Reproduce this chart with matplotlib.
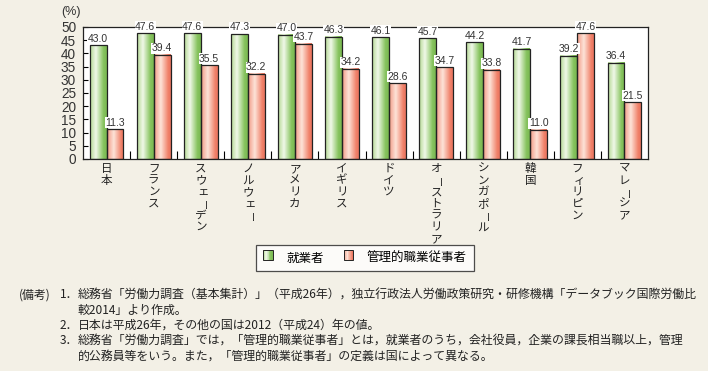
import numpy as np
import matplotlib
matplotlib.use('Agg')
import matplotlib.pyplot as plt
from matplotlib.colors import LinearSegmentedColormap
from matplotlib.patches import Rectangle

plt.rcParams['font.family'] = ['Liberation Sans', 'Noto Sans CJK JP']

# Data
countries = ['日本', 'フランス', 'スウェーデン', 'ノルウェー', 'アメリカ', 'イギリス', 'ドイツ',
             'オーストラリア', 'シンガポール', '韓国', 'フィリピン', 'マレーシア']
employed = [43.0, 47.6, 47.6, 47.3, 47.0, 46.3, 46.1, 45.7, 44.2, 41.7, 39.2, 36.4]
managers = [11.3, 39.4, 35.5, 32.2, 43.7, 34.2, 28.6, 34.7, 33.8, 11.0, 47.6, 21.5]
series_names = ['就業者', '管理的職業従事者']
yticks = list(range(0, 51, 5))

notes = [
    ('(備考)', '1．', '総務省「労働力調査（基本集計）」（平成26年），独立行政法人労働政策研究・研修機構「データブック国際労働比'),
    ('', '', '較2014」より作成。'),
    ('', '2．', '日本は平成26年，その他の国は2012（平成24）年の値。'),
    ('', '3．', '総務省「労働力調査」では，「管理的職業従事者」とは，就業者のうち，会社役員，企業の課長相当職以上，管理'),
    ('', '', '的公務員等をいう。また，「管理的職業従事者」の定義は国によって異なる。'),
]

bg = '#f3f0e6'
green = LinearSegmentedColormap.from_list('g', [(0, '#b5d994'), (0.35, '#f0f8e8'), (0.8, '#86c35e'), (1, '#7ab852')])
red = LinearSegmentedColormap.from_list('r', [(0, '#f29a85'), (0.4, '#fde3d8'), (0.85, '#f08068'), (1, '#ea7560')])


class GradHandler:
    def __init__(self, cmap):
        self.cmap = cmap

    def legend_artist(self, legend, orig_handle, fontsize, handlebox):
        x0, y0 = handlebox.xdescent, handlebox.ydescent
        w, h = handlebox.width, handlebox.height
        n = 12
        for k in range(n):
            handlebox.add_artist(Rectangle((x0 + w * k / n, y0), w / n + 0.2, h,
                                           facecolor=self.cmap((k + 0.5) / n), edgecolor='none',
                                           transform=handlebox.get_transform()))
        border = Rectangle((x0, y0), w, h, facecolor='none', edgecolor='#222222', lw=0.7,
                           transform=handlebox.get_transform())
        handlebox.add_artist(border)
        return border


fig = plt.figure(figsize=(7.08, 3.71), dpi=100, facecolor=bg)
ax = fig.add_axes([83 / 708, 1 - 159 / 371, 565 / 708, 132 / 371])
ax.set_facecolor('white')

x = np.arange(len(countries))
w = 0.36
grad = np.linspace(0, 1, 64).reshape(1, -1)
bars_list = []
for vals, off, cmap in [(employed, -w / 2, green), (managers, w / 2, red)]:
    bars = ax.bar(x + off, vals, w, facecolor='none', edgecolor='#222222', lw=0.9, zorder=3)
    for b in bars:
        ax.imshow(grad, cmap=cmap, aspect='auto', interpolation='bilinear', zorder=2,
                  extent=[b.get_x(), b.get_x() + b.get_width(), 0, b.get_height()])
    for b, v in zip(bars, vals):
        ax.annotate(f'{v:.1f}', (b.get_x() + b.get_width() / 2, v), xytext=(0, 1.2),
                    textcoords='offset points', ha='center', va='bottom', fontsize=7.5,
                    color='#333333', zorder=6, annotation_clip=False,
                    bbox=dict(boxstyle='square,pad=0.05', fc='white', ec='none'))
    bars_list.append(bars)

ax.set_xlim(-0.5, len(countries) - 0.5)
ax.set_ylim(0, 50)
ax.set_yticks(yticks)
ax.set_yticklabels([str(t) for t in yticks], fontsize=9.8, color='#333333')
ax.set_xticks(x[:-1] + 0.5)
ax.set_xticklabels([])
ax.tick_params(axis='y', direction='in', length=3.5, width=0.8, pad=5)
ax.tick_params(axis='x', direction='in', length=5.5, width=0.8)
for s in ax.spines.values():
    s.set_linewidth(0.9)
    s.set_color('#222222')

# vertical category labels, one character per line
small = 'ァィゥェォッャュョ'
step = 8.4
for i, name in enumerate(countries):
    for k, ch in enumerate(name):
        dx, rot, fsz = 0, 0, 8.3
        if ch == 'ー':
            dx, rot, fsz = 3.6, 90, 7.2
        if ch in small:
            dx = 1.5
        ax.annotate(ch, (i, 0), xycoords=('data', 'axes fraction'),
                    xytext=(dx, -6.8 - k * step), textcoords='offset points',
                    ha='center', va='center', rotation=rot, fontsize=fsz,
                    family='Noto Sans CJK JP', color='#222222', annotation_clip=False)

fig.text(61 / 708, 1 - 12 / 371, '(%)', fontsize=9, color='#333333', va='center', ha='left')

leg = fig.legend(bars_list, series_names, loc='center', bbox_to_anchor=(365 / 708, 1 - 258 / 371),
                 ncol=2, fontsize=9, frameon=True, fancybox=False, edgecolor='#222222',
                 handlelength=0.75, handleheight=0.95, handletextpad=1.1, columnspacing=1.6,
                 borderpad=0.55, prop={'family': 'Noto Sans CJK JP', 'size': 9},
                 handler_map={bars_list[0]: GradHandler(green), bars_list[1]: GradHandler(red)})
leg.get_frame().set_linewidth(0.9)

y0, dy = 295, 15.2
fs = 8.6
for j, (head, num, txt) in enumerate(notes):
    yy = 1 - (y0 + j * dy) / 371
    if head:
        fig.text(19 / 708, yy, head, fontsize=fs, family='Noto Sans CJK JP', va='center', color='#222222')
    if num:
        fig.text(60 / 708, yy, num, fontsize=fs, family='Noto Sans CJK JP', va='center', color='#222222')
    fig.text(78 / 708, yy, txt, fontsize=fs, family='Noto Sans CJK JP', va='center', color='#222222')

fig.savefig('out.png', dpi=100, facecolor=bg)
